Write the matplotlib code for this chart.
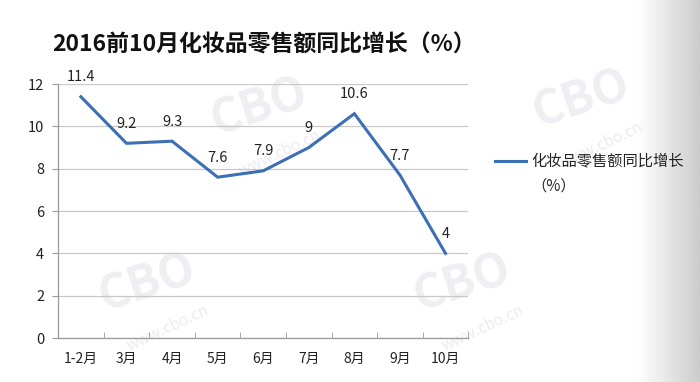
import numpy as np
import matplotlib
matplotlib.use("Agg")
import matplotlib.pyplot as plt

plt.rcParams['font.family'] = ['Noto Sans CJK SC', 'DejaVu Sans']

months = ['1-2月', '3月', '4月', '5月', '6月', '7月', '8月', '9月', '10月']
growth = [11.4, 9.2, 9.3, 7.6, 7.9, 9, 10.6, 7.7, 4]
labels = ['11.4', '9.2', '9.3', '7.6', '7.9', '9', '10.6', '7.7', '4']
yticks = [0, 2, 4, 6, 8, 10, 12]

fig = plt.figure(figsize=(7, 3.82), dpi=100)

# gray shading along the right edge
bg = fig.add_axes([0.91, 0, 0.09, 1], zorder=-5)
grad = np.linspace(1, 0.8, 50).reshape(1, -1)
bg.imshow(grad, aspect='auto', cmap='gray', vmin=0, vmax=1, extent=[0, 1, 0, 1])
bg.axis('off')

ax = fig.add_axes([0.083, 0.115, 0.586, 0.665])
x = np.arange(len(months))
line_color = '#3c6fb5'
ax.plot(x, growth, color=line_color, lw=2.2, solid_joinstyle='miter', zorder=3)

for xi, yi, lab in zip(x, growth, labels):
    ax.annotate(lab, (xi, yi), xytext=(0, 9), textcoords='offset points',
                ha='center', va='bottom', fontsize=10.5, color='#222222')

ax.set_xlim(-0.5, len(months) - 0.5)
ax.set_ylim(0, 12)
ax.set_yticks(yticks)
ax.set_xticks(x)
ax.set_xticklabels(months, fontsize=10, color='#222222')
ax.set_xticks(np.arange(-0.5, len(months)), minor=True)
ax.tick_params(axis='x', which='major', length=0, pad=10)
ax.tick_params(axis='x', which='minor', length=4, color='#9a9a9a', direction='in')
ax.tick_params(axis='y', length=4, color='#9a9a9a', labelsize=10.5, labelcolor='#222222', pad=6)
ax.grid(axis='y', color='#c8c8c8', lw=0.9)
ax.set_axisbelow(True)
for s in ['top', 'right']:
    ax.spines[s].set_visible(False)
for s in ['left', 'bottom']:
    ax.spines[s].set_color('#9a9a9a')
    ax.spines[s].set_linewidth(0.9)
ax.patch.set_alpha(0)

# faint watermarks
for wx, wy in [(0.37, 0.72), (0.83, 0.74), (0.21, 0.26), (0.66, 0.26)]:
    fig.text(wx, wy, 'CBO', fontsize=34, fontweight='bold', color='#efeff3',
             rotation=18, ha='center', va='center', zorder=-1)
    fig.text(wx + 0.03, wy - 0.12, 'www.cbo.cn', fontsize=11, color='#ececf0',
             rotation=25, ha='center', va='center', zorder=-1)

fig.text(0.377, 0.882, '2016前10月化妆品零售额同比增长（%）', fontsize=16.5,
         fontweight='bold', ha='center', va='center', color='#111111')

# legend
fig.add_artist(plt.Line2D([0.707, 0.752], [0.578, 0.578], color=line_color, lw=2.2))
fig.text(0.759, 0.578, '化妆品零售额同比增长', fontsize=11, va='center', ha='left', color='#222222')
fig.text(0.759, 0.512, '（%）', fontsize=11, va='center', ha='left', color='#222222')

fig.savefig('out.png', dpi=100, facecolor='white')
